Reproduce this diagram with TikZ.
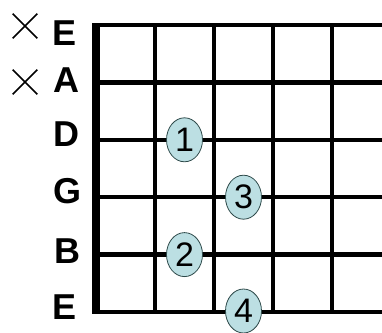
\documentclass[tikz,border=0pt]{standalone}
\usepackage{fontspec}
\setmainfont{Liberation Sans}
\usepackage{tikz}
\usetikzlibrary{shapes.geometric,shapes.misc}
\definecolor{FingerFill}{HTML}{BCDFE3}
\definecolor{FingerEdge}{HTML}{2E4A4A}

\begin{document}
\begin{tikzpicture}[x=1pt,y=-1pt,
  fretline/.style={line width=4.3pt},
  nutline/.style={line width=8pt},
  strname/.style={font=\bfseries\fontsize{36}{36}\selectfont,inner sep=0pt},
  finger/.style={ellipse,draw=FingerEdge,fill=FingerFill,line width=0.8pt,minimum width=36pt,minimum height=44pt,inner sep=0pt,font=\fontsize{34}{34}\selectfont},
  mute/.style={cross out,draw,line width=1.7pt,minimum size=23pt,inner sep=0pt}]
  \useasboundingbox (0,0) rectangle (382,332);
  % strings
  \foreach \y in {25,82.4,139.8,197.2,254.6,312}
    \draw[fretline] (96,\y) -- (382,\y);
  % frets
  \foreach \x in {155,214,273,332}
    \draw[fretline] (\x,23) -- (\x,314);
  \draw[nutline] (96,23) -- (96,314);
  % string names
  \node[strname] (lblEhi) at (65,33.5) {E};
  \node[strname] (lblA) at (66,80) {A};
  \node[strname] (lblD) at (66,134) {D};
  \node[strname] (lblG) at (67,191) {G};
  \node[strname] (lblB) at (67,251) {B};
  \node[strname] (lblElo) at (65,307.5) {E};
  % muted strings
  \node[mute] (muteE) at (25,26) {};
  \node[mute] (muteA) at (25,82) {};
  % fingers
  \node[finger] (f1) at (184.5,139.8) {1};
  \node[finger] (f3) at (243.5,197.2) {3};
  \node[finger] (f2) at (184.5,254.6) {2};
  \node[finger] (f4) at (243.5,311) {4};
\end{tikzpicture}
\end{document}
